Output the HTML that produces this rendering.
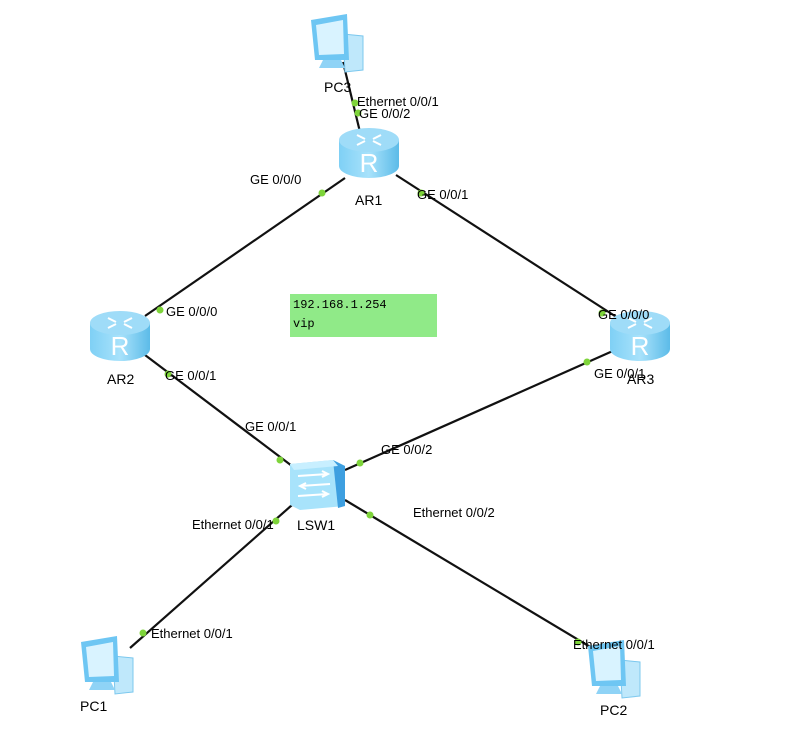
<!DOCTYPE html>
<html><head><meta charset="utf-8"><style>
html,body{margin:0;padding:0;background:#fff;}
svg text{font-family:"Liberation Sans",Arial,sans-serif;font-size:13px;fill:#000;}
</style></head><body>
<svg width="807" height="750" viewBox="0 0 807 750" xmlns="http://www.w3.org/2000/svg">
<defs>
<linearGradient id="rg" x1="0" x2="1" y1="0" y2="0">
<stop offset="0" stop-color="#7fd0f5"/><stop offset="0.5" stop-color="#a8e2fb"/><stop offset="1" stop-color="#5cbbe8"/>
</linearGradient>
<g id="router">
<path d="M-30,-12 L-30,14 A30,12 0 0 0 30,14 L30,-12 Z" fill="url(#rg)"/>
<ellipse cx="0" cy="-12" rx="30" ry="12" fill="#9fdcf8"/>
<g stroke="#fff" stroke-width="2" fill="none"><path d="M-12,-17 l8,4 M12,-17 l-8,4 M-12,-7 l8,-4 M12,-7 l-8,-4"/></g>
<text x="0" y="20" text-anchor="middle" style="font-size:26px;fill:#fff;">R</text>
</g>
<g id="pc">
<path d="M10,-4 L30,-2 L30,32 L12,34 Z" fill="#bfe8fb" stroke="#7cc8ee"/>
<path d="M-22,-18 L14,-24 L16,22 L-18,22 Z" fill="#6ec6f3"/>
<path d="M-17,-13 L10,-18 L11,16 L-14,17 Z" fill="#d9f3ff"/>
<path d="M-10,22 L8,22 L12,30 L-14,30 Z" fill="#8fd3f6"/>
</g>
</defs>
<g stroke="#111" stroke-width="2.2">
<line x1="343" y1="62" x2="360" y2="132"/>
<line x1="345" y1="178" x2="145" y2="316"/>
<line x1="396" y1="175" x2="618" y2="318"/>
<line x1="145" y1="355" x2="292" y2="466"/>
<line x1="615" y1="350" x2="345" y2="470"/>
<line x1="292" y1="505" x2="130" y2="648"/>
<line x1="345" y1="500" x2="592" y2="648"/>
</g>
<use href="#pc" x="333" y="38"/>
<use href="#router" x="369" y="152"/>
<use href="#router" x="120" y="335"/>
<use href="#router" x="640" y="335"/>
<use href="#pc" x="103" y="660"/>
<use href="#pc" x="610" y="664"/>
<g>
<path d="M290,464 L333,460 L345,466 L345,506 L300,510 L290,505 Z" fill="#a8e3fb"/>
<path d="M333,460 L345,466 L345,506 L338,508 Z" fill="#3d9fe0"/>
<path d="M290,464 L333,460 L338,466 L294,470 Z" fill="#c8efff"/>
<g stroke="#fff" stroke-width="2" fill="none"><path d="M298,476 l30,-2 M322,471 l6,3 l-6,3 M330,484 l-30,2 M306,483 l-6,3 l6,3 M298,496 l30,-2 M322,491 l6,3 l-6,3"/></g>
</g>
<g fill="#7ed43a">
<circle cx="355" cy="103" r="3.5"/><circle cx="358" cy="113" r="3.5"/>
<circle cx="322" cy="193" r="3.5"/><circle cx="421" cy="193" r="3.5"/>
<circle cx="160" cy="310" r="3.5"/><circle cx="602" cy="313" r="3.5"/>
<circle cx="168" cy="374" r="3.5"/><circle cx="587" cy="362" r="3.5"/>
<circle cx="280" cy="460" r="3.5"/><circle cx="360" cy="463" r="3.5"/>
<circle cx="276" cy="521" r="3.5"/><circle cx="370" cy="515" r="3.5"/>
<circle cx="143" cy="633" r="3.5"/><circle cx="578" cy="642" r="3.5"/>
</g>
<rect x="290" y="294" width="147" height="43" fill="#90ea88"/>
<text x="293" y="308" style="font-family:'Liberation Mono',monospace;font-size:12px;">192.168.1.254</text>
<text x="293" y="327" style="font-family:'Liberation Mono',monospace;font-size:12px;">vip</text>
<text x="324" y="92" style="font-size:14px">PC3</text>
<text x="355" y="205" style="font-size:14px">AR1</text>
<text x="107" y="384" style="font-size:14px">AR2</text>
<text x="627" y="384" style="font-size:14px">AR3</text>
<text x="297" y="530" style="font-size:14px">LSW1</text>
<text x="80" y="711" style="font-size:14px">PC1</text>
<text x="600" y="715" style="font-size:14px">PC2</text>
<text x="357" y="106">Ethernet 0/0/1</text>
<text x="359" y="118">GE 0/0/2</text>
<text x="250" y="184">GE 0/0/0</text>
<text x="417" y="199">GE 0/0/1</text>
<text x="166" y="316">GE 0/0/0</text>
<text x="598" y="319">GE 0/0/0</text>
<text x="165" y="380">GE 0/0/1</text>
<text x="594" y="378">GE 0/0/1</text>
<text x="245" y="431">GE 0/0/1</text>
<text x="381" y="454">GE 0/0/2</text>
<text x="192" y="529">Ethernet 0/0/1</text>
<text x="413" y="517">Ethernet 0/0/2</text>
<text x="151" y="638">Ethernet 0/0/1</text>
<text x="573" y="649">Ethernet 0/0/1</text>
</svg>
</body></html>
